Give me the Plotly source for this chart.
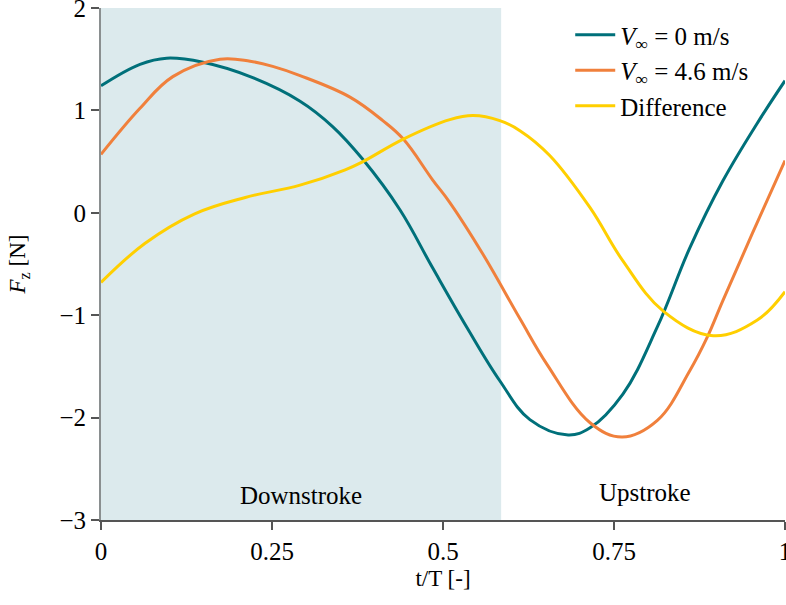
import plotly.graph_objects as go

# V_inf = 0 m/s
t_v0 = [0, 0.057, 0.096, 0.149, 0.218, 0.291, 0.339, 0.383, 0.437, 0.485, 0.535,
        0.583, 0.627, 0.683, 0.715, 0.763, 0.813, 0.861, 0.909, 0.959, 1.0]
fz_v0 = [1.24, 1.45, 1.51, 1.47, 1.33, 1.09, 0.84, 0.52, 0.03, -0.54, -1.12,
         -1.64, -2.02, -2.17, -2.10, -1.77, -1.12, -0.34, 0.31, 0.87, 1.29]

# V_inf = 4.6 m/s
t_v46 = [0, 0.057, 0.105, 0.174, 0.218, 0.251, 0.291, 0.364, 0.412, 0.442, 0.485,
         0.510, 0.558, 0.613, 0.652, 0.715, 0.762, 0.813, 0.861, 0.886, 0.909, 0.959, 1.0]
fz_v46 = [0.57, 1.02, 1.33, 1.50, 1.48, 1.43, 1.34, 1.13, 0.90, 0.72, 0.32,
          0.10, -0.40, -1.04, -1.48, -2.05, -2.19, -2.03, -1.54, -1.22, -0.86, -0.10, 0.51]

# Difference
t_diff = [0, 0.064, 0.137, 0.211, 0.291, 0.357, 0.383, 0.442, 0.510, 0.544, 0.583,
          0.613, 0.656, 0.715, 0.763, 0.822, 0.895, 0.959, 1.0]
fz_diff = [-0.68, -0.30, -0.01, 0.15, 0.27, 0.42, 0.50, 0.72, 0.91, 0.95, 0.90,
           0.80, 0.56, 0.05, -0.47, -0.96, -1.20, -1.05, -0.77]

series_names = ["<i>V</i><sub>∞</sub> = 0 m/s", "<i>V</i><sub>∞</sub> = 4.6 m/s", "Difference"]
colors = ["#00707A", "#F0803C", "#FFCF00"]
downstroke_end = 0.585
x_ticks = [0, 0.25, 0.5, 0.75, 1]
x_tick_labels = ["0", "0.25", "0.5", "0.75", "1"]
y_ticks = [-3, -2, -1, 0, 1, 2]

font_family = "Liberation Serif, Times New Roman, serif"

fig = go.Figure()
for name, tx, y, c in zip(series_names, [t_v0, t_v46, t_diff], [fz_v0, fz_v46, fz_diff], colors):
    fig.add_trace(go.Scatter(x=tx, y=y, mode="lines", name=name,
                             line=dict(color=c, width=3, shape="spline", smoothing=1.1)))

fig.add_shape(type="rect", xref="x", yref="y", x0=0, x1=downstroke_end, y0=-3, y1=2,
              fillcolor="#DCEAED", line=dict(width=0), layer="below")

fig.add_annotation(x=0.292, y=-2.76, xref="x", yref="y", text="Downstroke",
                   showarrow=False, font=dict(size=25, color="black", family=font_family))
fig.add_annotation(x=0.795, y=-2.73, xref="x", yref="y", text="Upstroke",
                   showarrow=False, font=dict(size=25, color="black", family=font_family))

fig.update_layout(
    width=786, height=605,
    margin=dict(l=101, r=1, t=8, b=85),
    plot_bgcolor="white", paper_bgcolor="white",
    font=dict(family=font_family, size=24, color="black"),
    showlegend=True,
    legend=dict(x=0.686, y=0.992, xanchor="left", yanchor="top",
                bgcolor="rgba(0,0,0,0)", font=dict(size=25, family=font_family),
                tracegroupgap=0, itemwidth=40),
    xaxis=dict(range=[0, 1], tickvals=x_ticks, ticktext=x_tick_labels,
               showgrid=False, zeroline=False, showline=True, linecolor="#555555", linewidth=1.5,
               ticks="outside", ticklen=8, tickcolor="#555555", tickwidth=1.5,
               ticklabeloverflow="allow", automargin=False,
               title=dict(text="t/T [-]", standoff=6, font=dict(size=23)),
               tickfont=dict(size=25)),
    yaxis=dict(range=[-3, 2], tickvals=y_ticks,
               showgrid=False, zeroline=False, showline=True, linecolor="#8A8F90", linewidth=2,
               ticks="outside", ticklen=8, tickcolor="#555555", tickwidth=1.5,
               ticklabeloverflow="allow", automargin=False,
               title=dict(text="<i>F</i><sub>z</sub> [N]", standoff=27, font=dict(size=23)),
               tickfont=dict(size=25)),
)

fig.write_html("out.html")
